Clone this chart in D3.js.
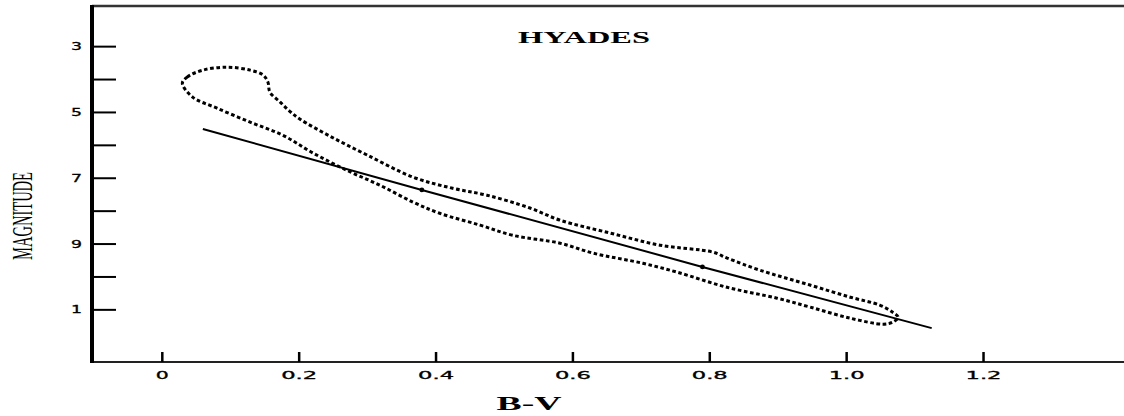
<!DOCTYPE html>
<html>
<head>
<meta charset="utf-8">
<script src="https://cdn.jsdelivr.net/npm/d3@7"></script>
<style>
  html, body { margin: 0; padding: 0; background: #fff; }
  svg { display: block; }
</style>
</head>
<body>
<svg id="chart" width="1124" height="416"></svg>
<script>
// ---------------- data ----------------
const title = "HYADES";
const xLabel = "B-V";
const yLabel = "MAGNITUDE";

const xTickValues = [0, 0.2, 0.4, 0.6, 0.8, 1.0, 1.2];
const xTickLabels = ["0", "0.2", "0.4", "0.6", "0.8", "1.0", "1.2"];
const yTickValues = [3, 4, 5, 6, 7, 8, 9, 10, 11];
const yTickLabels = ["3", "", "5", "", "7", "", "9", "", "1"];

// dotted envelope (closed loop): B-V colour index
const loopBV = [0.03, 0.037, 0.06, 0.095, 0.129, 0.148, 0.155, 0.158, 0.173, 0.187, 0.202, 0.246, 0.300, 0.367,
  0.425, 0.475, 0.538, 0.582, 0.655, 0.728, 0.805, 0.826, 0.874, 0.947, 1.006, 1.049, 1.068, 1.076,
  1.068, 1.054, 1.006, 0.947, 0.899, 0.826, 0.753, 0.703, 0.630, 0.582, 0.513, 0.465, 0.406, 0.367,
  0.319, 0.270, 0.221, 0.177, 0.129, 0.080, 0.045];
// dotted envelope: magnitude
const loopMag = [4.13, 3.94, 3.73, 3.64, 3.73, 3.88, 4.09, 4.40, 4.70, 4.98, 5.22, 5.74, 6.31, 6.98,
  7.32, 7.53, 7.92, 8.29, 8.68, 9.05, 9.26, 9.44, 9.81, 10.26, 10.63, 10.87, 11.09, 11.24,
  11.39, 11.45, 11.27, 10.93, 10.66, 10.33, 9.87, 9.60, 9.29, 8.99, 8.75, 8.44, 8.08, 7.74,
  7.23, 6.77, 6.25, 5.71, 5.31, 4.88, 4.55];

// solid main-sequence line
const lineBV = [0.06, 0.38, 0.79, 1.125];
const lineMag = [5.52, 7.37, 9.71, 11.57];
// marked points on the line
const markBV = [0.38, 0.79];
const markMag = [7.37, 9.71];

// ---------------- chart ----------------
const svg = d3.select("#chart");
const mLeft = 92, mRight = 1124, mTop = 6, mBottom = 362;

const x = d3.scaleLinear().domain([-0.102, 1.406]).range([mLeft, mRight]);
const y = d3.scaleLinear().domain([1.78, 12.6]).range([mTop, mBottom]);

// frame lines
svg.append("line").attr("x1", mLeft).attr("x2", mRight).attr("y1", mTop).attr("y2", mTop)
  .attr("stroke", "#333").attr("stroke-width", 2.5);
svg.append("line").attr("x1", mLeft).attr("x2", mRight).attr("y1", mBottom).attr("y2", mBottom)
  .attr("stroke", "#222").attr("stroke-width", 2);
svg.append("line").attr("x1", mLeft).attr("x2", mLeft).attr("y1", mTop - 1).attr("y2", mBottom + 1)
  .attr("stroke", "#000").attr("stroke-width", 4);

// x axis
const xAxis = d3.axisBottom(x)
  .tickValues(xTickValues)
  .tickSizeInner(-10).tickSizeOuter(0).tickPadding(9)
  .tickFormat((d, i) => xTickLabels[i]);
const gx = svg.append("g").attr("transform", `translate(0,${mBottom})`).call(xAxis);
gx.select(".domain").remove();
gx.selectAll(".tick line").attr("stroke", "#000").attr("stroke-width", 2.5);
gx.selectAll(".tick text")
  .attr("font-family", "DejaVu Sans")
  .attr("font-size", 11)
  .attr("fill", "#000")
  .attr("stroke", "#000").attr("stroke-width", 0.3)
  .each(function(d, i) {
    const s = xTickLabels[i];
    let len = 0;
    for (const c of s) len += (c === "." ? 10 : 13);
    d3.select(this).attr("textLength", len).attr("lengthAdjust", "spacingAndGlyphs");
  });

// y axis
const yAxis = d3.axisLeft(y)
  .tickValues(yTickValues)
  .tickSizeInner(-24).tickSizeOuter(0).tickPadding(10)
  .tickFormat((d, i) => yTickLabels[i]);
const gy = svg.append("g").attr("transform", `translate(${mLeft},0)`).call(yAxis);
gy.select(".domain").remove();
gy.selectAll(".tick line").attr("stroke", "#000").attr("stroke-width", 2);
gy.selectAll(".tick text")
  .attr("font-family", "DejaVu Sans")
  .attr("font-size", 11)
  .attr("fill", "#000")
  .attr("stroke", "#000").attr("stroke-width", 0.3)
  .each(function(d, i) {
    const s = yTickLabels[i];
    if (s) d3.select(this).attr("textLength", 11 * s.length).attr("lengthAdjust", "spacingAndGlyphs");
  });

// dotted loop
const loopPts = loopBV.map((b, i) => [b, loopMag[i]]);
svg.append("path")
  .datum(loopPts)
  .attr("d", d3.line().x(d => x(d[0])).y(d => y(d[1])).curve(d3.curveCatmullRomClosed.alpha(0.5)))
  .attr("fill", "none")
  .attr("stroke", "#000")
  .attr("stroke-width", 3)
  .attr("stroke-dasharray", "3.6,2.6");

// solid line
const linePts = lineBV.map((b, i) => [b, lineMag[i]]);
svg.append("path")
  .datum(linePts)
  .attr("d", d3.line().x(d => x(d[0])).y(d => y(d[1])))
  .attr("fill", "none")
  .attr("stroke", "#000")
  .attr("stroke-width", 2);

svg.selectAll("circle.mark")
  .data(markBV.map((b, i) => [b, markMag[i]]))
  .join("circle")
  .attr("class", "mark")
  .attr("cx", d => x(d[0])).attr("cy", d => y(d[1]))
  .attr("r", 2.4).attr("fill", "#000");

// title
svg.append("text")
  .attr("x", 584).attr("y", 43)
  .attr("text-anchor", "middle")
  .attr("font-family", "Liberation Serif")
  .attr("font-weight", "bold")
  .attr("font-size", 16)
  .attr("textLength", 132).attr("lengthAdjust", "spacingAndGlyphs")
  .text(title);

// x label
svg.append("text")
  .attr("x", 529).attr("y", 410)
  .attr("text-anchor", "middle")
  .attr("font-family", "Liberation Serif")
  .attr("font-weight", "bold")
  .attr("font-size", 19)
  .attr("textLength", 65).attr("lengthAdjust", "spacingAndGlyphs")
  .text(xLabel);

// y label
svg.append("text")
  .attr("transform", "translate(32,216) rotate(-90)")
  .attr("text-anchor", "middle")
  .attr("font-family", "Liberation Serif")
  .attr("font-size", 29)
  .attr("textLength", 88).attr("lengthAdjust", "spacingAndGlyphs")
  .text(yLabel);
</script>
</body>
</html>
